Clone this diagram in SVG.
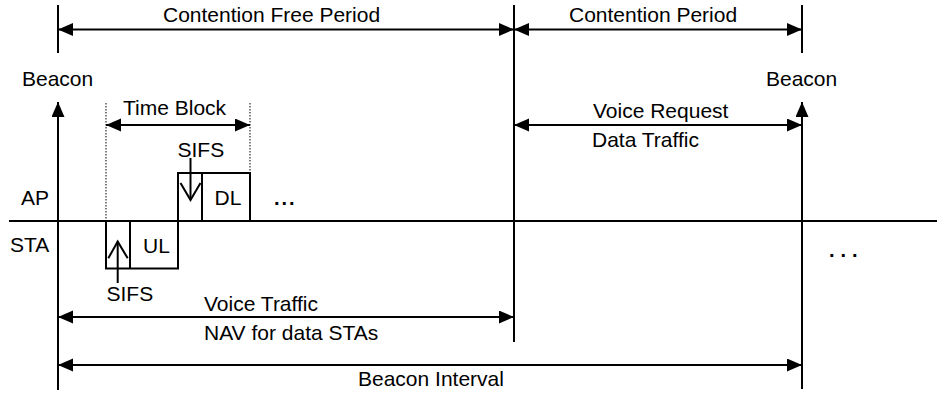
<svg xmlns="http://www.w3.org/2000/svg" width="937" height="394" viewBox="0 0 937 394">
<style>
text{font-family:"Liberation Sans",Arial,sans-serif;font-size:21px;fill:#000}
.ln{stroke:#000;stroke-width:2;fill:none}
.ar{stroke:#000;stroke-width:2;fill:none;marker-end:url(#ah);marker-start:url(#ah)}
.ae{stroke:#000;stroke-width:2;fill:none;marker-end:url(#ah)}
.dot{stroke:#000;stroke-width:1;stroke-dasharray:1.5 1.5;fill:none}
.box{stroke:#000;stroke-width:2;fill:#fff}
.dots{font-weight:bold;font-size:20px}
</style>
<defs>
<marker id="ah" markerUnits="userSpaceOnUse" markerWidth="16" markerHeight="14" refX="15" refY="6.5" orient="auto-start-reverse">
<path d="M0,0 L15,6.5 L0,13 z" fill="#000"/>
</marker>
</defs>
<rect width="937" height="394" fill="#fff"/>
<g id="timeline">
<line class="ln" x1="9" y1="221" x2="937" y2="221"/>
<line class="ln" x1="58" y1="5" x2="58" y2="53"/>
<line class="ln" x1="514" y1="5" x2="514" y2="342"/>
<line class="ln" x1="802" y1="5" x2="802" y2="53"/>
<line class="dot" x1="106" y1="103" x2="106" y2="221"/>
<line class="dot" x1="250" y1="103" x2="250" y2="172"/>
</g>
<g id="connectors">
<line class="ar" x1="58" y1="29.5" x2="514" y2="29.5"/>
<line class="ar" x1="514" y1="29.5" x2="802" y2="29.5"/>
<line class="ar" x1="514" y1="125" x2="802" y2="125"/>
<line class="ar" x1="106" y1="125" x2="250" y2="125"/>
<line class="ar" x1="58" y1="317" x2="514" y2="317"/>
<line class="ar" x1="58" y1="365" x2="802" y2="365"/>
<line class="ae" x1="58" y1="390" x2="58" y2="102"/>
<line class="ae" x1="802" y1="389" x2="802" y2="102"/>
</g>
<g id="ul-block">
<rect class="box" x="106" y="221" width="72" height="47.5"/>
<line class="ln" x1="130" y1="221" x2="130" y2="268.5"/>
<polyline class="ln" points="108.3,258.3 117.7,241.5 127.7,258.3"/>
<line class="ln" x1="117.7" y1="241.5" x2="117.7" y2="283"/>
<text x="143" y="253">UL</text>
<text x="106.5" y="301">SIFS</text>
</g>
<g id="dl-block">
<rect class="box" x="178" y="173" width="72" height="48"/>
<line class="ln" x1="202" y1="173" x2="202" y2="221"/>
<polyline class="ln" points="180.5,183 190.5,200 200.5,183"/>
<line class="ln" x1="190.5" y1="158" x2="190.5" y2="200"/>
<text x="214.5" y="205">DL</text>
<text x="177.5" y="157">SIFS</text>
</g>
<g id="labels">
<text x="163" y="22">Contention Free Period</text>
<text x="569" y="22">Contention Period</text>
<text x="22" y="86">Beacon</text>
<text x="766" y="86">Beacon</text>
<text x="123" y="115">Time Block</text>
<text x="593" y="118">Voice Request</text>
<text x="592" y="147">Data Traffic</text>
<text x="21" y="205">AP</text>
<text x="10" y="252">STA</text>
<text x="204" y="311">Voice Traffic</text>
<text x="204" y="340">NAV for data STAs</text>
<text x="358" y="386">Beacon Interval</text>
<text class="dots" x="274" y="205" style="letter-spacing:2px">...</text>
<text class="dots" x="829" y="257" style="letter-spacing:6px">...</text>
</g>
</svg>
